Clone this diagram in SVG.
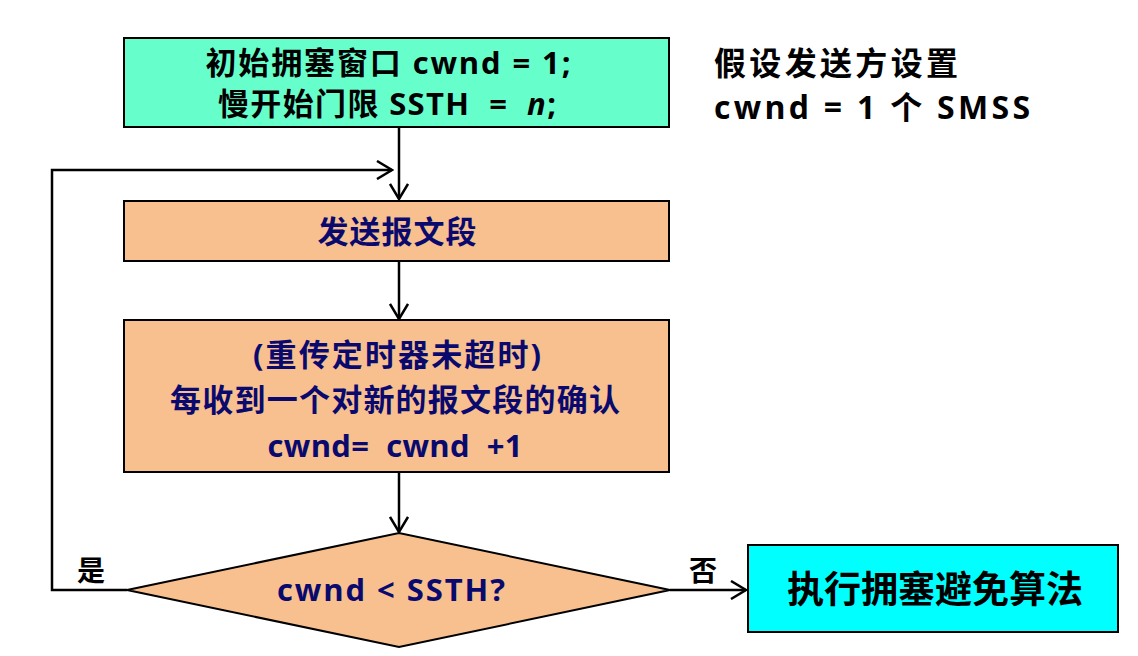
<svg xmlns="http://www.w3.org/2000/svg" width="1138" height="656" viewBox="0 0 1138 656">
<style>
.box{stroke:#000;stroke-width:2}
.t{font-family:"Open Sans","Noto Sans CJK SC",sans-serif;font-weight:bold;text-anchor:middle;white-space:pre}
.l{text-anchor:start}
.blk{fill:#000}
.nav{fill:#0a0a6e}
.ln{fill:none;stroke:#000;stroke-width:2.5}
</style>
<defs>
<marker id="ah" markerWidth="20" markerHeight="20" viewBox="0 0 20 20" refX="18" refY="10" orient="auto" markerUnits="userSpaceOnUse">
<polyline points="3,1 18,10 3,19" fill="none" stroke="#000" stroke-width="2.5"/>
</marker>
</defs>
<rect width="1138" height="656" fill="#fff"/>
<g id="connectors">
<line class="ln" x1="399" y1="127" x2="399" y2="199" marker-end="url(#ah)"/>
<line class="ln" x1="399" y1="261" x2="399" y2="319" marker-end="url(#ah)"/>
<line class="ln" x1="399" y1="472" x2="399" y2="532" marker-end="url(#ah)"/>
<polyline class="ln" points="127,590 52,590 52,170 392,170" marker-end="url(#ah)"/>
<line class="ln" x1="670" y1="590" x2="746" y2="590" marker-end="url(#ah)"/>
<text class="t blk" x="91" y="581" font-size="28">是</text>
<text class="t blk" x="703" y="581" font-size="28">否</text>
</g>
<g id="init">
<rect class="box" x="124" y="38" width="545" height="89" fill="#66ffcc"/>
<text class="t blk" x="388" y="74" font-size="31" textLength="365">初始拥塞窗口 cwnd = 1;</text>
<text class="t blk" x="387" y="115" font-size="31" textLength="338">慢开始门限 SSTH  =  <tspan font-style="italic">n</tspan>;</text>
</g>
<g id="note">
<text class="t blk l" x="714" y="75" font-size="32" textLength="244">假设发送方设置</text>
<text class="t blk l" x="714" y="119" font-size="32" textLength="316">cwnd = 1 个 SMSS</text>
</g>
<g id="send">
<rect class="box" x="124" y="201" width="545" height="60" fill="#f8c08f"/>
<text class="t nav" x="397" y="243" font-size="31" textLength="159">发送报文段</text>
</g>
<g id="ack">
<rect class="box" x="124" y="320" width="545" height="152" fill="#f8c08f"/>
<text class="t nav" x="397" y="366" font-size="31" textLength="288">(重传定时器未超时)</text>
<text class="t nav" x="395" y="411" font-size="31" textLength="450">每收到一个对新的报文段的确认</text>
<text class="t nav" x="395" y="457" font-size="31" textLength="255">cwnd=  cwnd  +1</text>
</g>
<g id="decision">
<polygon class="box" points="127,590 399,533 670,590 399,647" fill="#f8c08f"/>
<text class="t nav" x="391" y="601" font-size="31" textLength="228">cwnd &lt; SSTH?</text>
</g>
<g id="avoid">
<rect class="box" x="748" y="545" width="370" height="87" fill="#00ffff"/>
<text class="t blk" x="935" y="603" font-size="37" textLength="296">执行拥塞避免算法</text>
</g>
</svg>
